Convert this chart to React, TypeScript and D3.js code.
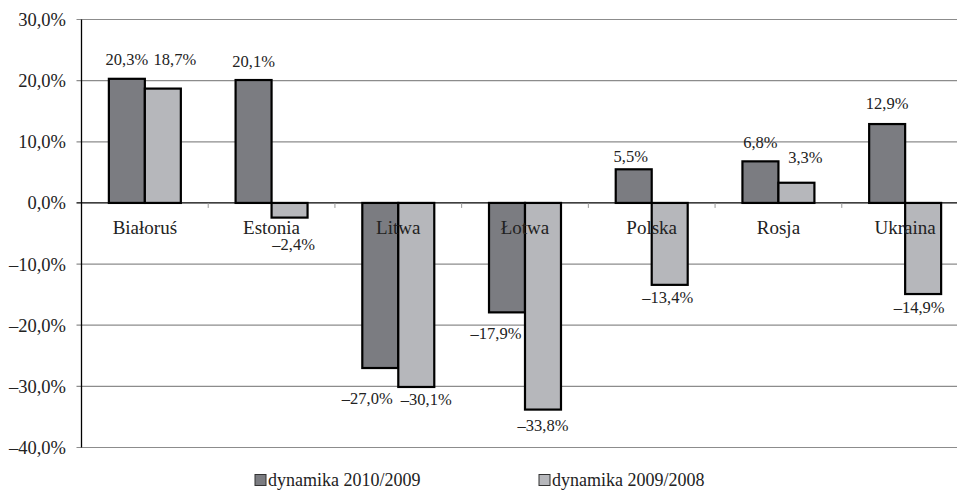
import React from 'react';
import { scaleLinear, scaleBand, range } from 'd3';

const categories = ['Białoruś', 'Estonia', 'Litwa', 'Łotwa', 'Polska', 'Rosja', 'Ukraina'];
const seriesNames = ['dynamika 2010/2009', 'dynamika 2009/2008'];
const dyn2010 = [20.3, 20.1, -27.0, -17.9, 5.5, 6.8, 12.9];
const dyn2009 = [18.7, -2.4, -30.1, -33.8, -13.4, 3.3, -14.9];
const yTicks = [30, 20, 10, 0, -10, -20, -30, -40];

// hand moved data labels, like in the original spreadsheet chart
const nudge2010 = [[0, 0], [0, 0], [-13, 17], [-11, 8], [-3, 6], [0, 0], [0, -2]];
const nudge2009 = [[12, -10], [4, 14], [10, 0], [0, 3], [-2, 0], [9, -6], [-4, 0]];

const colors = ['#7b7c81', '#b6b7bb'];
const font = '"Liberation Serif", "Times New Roman", serif';

const fmt = (v: number) => (v < 0 ? '\u2013' : '') + Math.abs(v).toFixed(1).replace('.', ',') + '%';

export default function App() {
  const width = 957;
  const height = 491;
  const left = 81.5;

  const y = scaleLinear().domain([-40, 30]).range([447.5, 19.5]);
  const x = scaleBand<string>().domain(categories).range([left, 968.5]).padding(0);
  const bw = x.bandwidth();
  const x1 = scaleBand<number>().domain([0, 1]).range([bw * 0.216, bw * 0.784]).padding(0);

  const series = [dyn2010, dyn2009];
  const nudges = [nudge2010, nudge2009];

  return (
    <svg width={width} height={height} style={{ position: 'absolute', left: 0, top: 0, background: '#fff' }}>
      {/* grid */}
      {yTicks.map(t => (
        <g key={t}>
          <line x1={left - 5} x2={width} y1={y(t)} y2={y(t)}
            stroke={t === 0 ? '#000' : '#8c8c8c'} strokeWidth={t === 0 ? 1.3 : 1.2} />
          <text x={66} y={y(t)} dy="0.35em" textAnchor="end" fontFamily={font} fontSize={18.5} fill="#222">
            {fmt(t)}
          </text>
        </g>
      ))}
      {/* category ticks on zero line */}
      {range(1, categories.length).map(i => (
        <line key={i} x1={left + bw * i} x2={left + bw * i} y1={y(0)} y2={y(0) + 5} stroke="#999" strokeWidth={1} />
      ))}
      {/* bars */}
      {series.map((vals, s) => (
        <g key={s}>
          {vals.map((v, i) => {
            const bx = (x(categories[i]) as number) + (x1(s) as number);
            return (
              <rect key={i} x={bx} y={y(Math.max(0, v))} width={x1.bandwidth()}
                height={Math.abs(y(v) - y(0))} fill={colors[s]} stroke="#000" strokeWidth={2.2} />
            );
          })}
        </g>
      ))}
      {/* category labels */}
      {categories.map(c => (
        <text key={c} x={(x(c) as number) + bw / 2} y={233.5} textAnchor="middle"
          fontFamily={font} fontSize={19} fill="#222">{c}</text>
      ))}
      {/* value labels */}
      {series.map((vals, s) => (
        <g key={s}>
          {vals.map((v, i) => {
            const cx = (x(categories[i]) as number) + (x1(s) as number) + x1.bandwidth() / 2;
            const base = v >= 0 ? y(v) - 13.5 : y(v) + 18.5;
            const [dx, dy] = nudges[s][i];
            return (
              <text key={i} x={cx + dx} y={base + dy} textAnchor="middle"
                fontFamily={font} fontSize={16.5} fill="#222">{fmt(v)}</text>
            );
          })}
        </g>
      ))}
      {/* y axis */}
      <line x1={left} x2={left} y1={y(30)} y2={y(-40)} stroke="#000" strokeWidth={1.3} />
      {/* legend */}
      {seriesNames.map((n, s) => {
        const lx = s === 0 ? 255 : 539;
        return (
          <g key={n}>
            <rect x={lx} y={474.5} width={11} height={11} fill={colors[s]} stroke="#333" strokeWidth={1} />
            <text x={lx + 13} y={486} fontFamily={font} fontSize={18} fill="#222">{n}</text>
          </g>
        );
      })}
    </svg>
  );
}
